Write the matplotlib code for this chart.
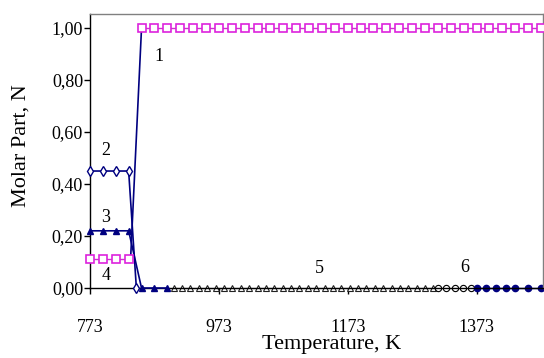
import matplotlib
matplotlib.use("Agg")
import matplotlib.pyplot as plt
from matplotlib.ticker import FuncFormatter

plt.rcParams['font.family'] = ['Liberation Serif', 'DejaVu Serif']

# curve 1: product, magenta squares
t1 = [853, 873, 893, 913, 933, 953, 973, 993, 1013, 1033, 1053, 1073, 1093, 1113,
      1133, 1153, 1173, 1193, 1213, 1233, 1253, 1273, 1293, 1313, 1333, 1353, 1373,
      1393, 1413, 1433, 1453, 1473]
n1 = [1.00] * len(t1)

# curve 4: lower magenta squares, rising into curve 1
t4 = [773, 793, 813, 833]
n4 = [0.11, 0.11, 0.11, 0.11]
t_rise = [836, 853]
n_rise = [0.11, 1.00]

# curve 2: navy open markers
t2 = [773, 793, 813, 833, 845]
n2 = [0.45, 0.45, 0.45, 0.45, 0.00]

# curve 3: navy triangles
t3 = [773, 793, 813, 833, 853, 873, 893]
n3 = [0.22, 0.22, 0.22, 0.22, 0.00, 0.00, 0.00]

# curve 5: black, small markers along zero
t5 = [903, 916, 929, 942, 955, 968, 981, 994, 1007, 1020, 1033, 1046, 1059, 1072,
      1085, 1098, 1111, 1124, 1137, 1150, 1163, 1176, 1189, 1202, 1215, 1228, 1241,
      1254, 1267, 1280, 1293, 1306]
n5 = [0.0] * len(t5)

# curve 6: open circles then filled navy circles
t6a = [1313, 1326, 1339, 1352, 1365]
n6a = [0.0] * len(t6a)
t6b = [1373, 1388, 1403, 1418, 1433, 1453, 1473]
n6b = [0.0] * len(t6b)

labels = ['1', '2', '3', '4', '5', '6']
label_t = [880, 798, 798, 798, 1129, 1355]
label_n = [0.89, 0.53, 0.27, 0.05, 0.075, 0.078]

navy = '#000080'
magenta = '#CC33CC'

fig = plt.figure(figsize=(5.44, 3.58), dpi=100)
ax = fig.add_axes([0.1654, 0.1955, 0.8327, 0.7654])

ax.plot(t5, n5, color='#333333', lw=0.8, marker='^', ms=4.5, mfc='white',
        mec='#222222', mew=0.8, zorder=2, clip_on=False)
ax.plot(t6a, n6a, color='black', lw=0.8, marker='o', ms=4.5, mfc='white',
        mec='black', mew=0.8, zorder=2, clip_on=False)
ax.plot(t6b, n6b, color=navy, lw=1, marker='o', ms=4.5, mfc=navy, mec=navy,
        zorder=2, clip_on=False)
ax.plot(t3, n3, color=navy, lw=1.2, marker='^', ms=5, mfc=navy, mec=navy,
        zorder=3, clip_on=False)
ax.plot(t2, n2, color=navy, lw=1.2, marker='d', ms=5, mfc='white', mec=navy,
        mew=1, zorder=3, clip_on=False)
ax.plot(t_rise, n_rise, color=navy, lw=1.2, zorder=3)
ax.plot(t4, n4, color=magenta, lw=1, marker='s', ms=6, mfc='white', mec='#DD22DD',
        mew=1.2, zorder=4, clip_on=False)
ax.plot(t1, n1, color=magenta, lw=1, marker='s', ms=6, mfc='white', mec='#DD22DD',
        mew=1.2, zorder=4, clip_on=False)

for lab, x, y in zip(labels, label_t, label_n):
    ax.text(x, y, lab, fontsize=13, ha='center', va='center')

ax.set_xlim(773, 1476)
ax.set_ylim(0, 1.054)
ax.set_xticks([773, 973, 1173, 1373])
ax.set_yticks([0, 0.2, 0.4, 0.6, 0.8, 1.0])
ax.yaxis.set_major_formatter(FuncFormatter(lambda v, p: ('%.2f' % v).replace('.', ',')))
ax.tick_params(axis='both', labelsize=13, length=4, width=1, direction='out')
ax.tick_params(axis='x', pad=18)
ax.tick_params(axis='y', pad=1)

for s in ['top', 'right']:
    ax.spines[s].set_color('#808080')
    ax.spines[s].set_linewidth(1)
for s in ['left', 'bottom']:
    ax.spines[s].set_color('black')
    ax.spines[s].set_linewidth(1)

ax.set_xlabel('Temperature, K', fontsize=16)
ax.xaxis.set_label_coords(0.534, -0.172)
ax.set_ylabel('Molar Part, N', fontsize=16, va='center')
ax.yaxis.set_label_coords(-0.152, 0.518)

fig.savefig('out.png', dpi=100)
